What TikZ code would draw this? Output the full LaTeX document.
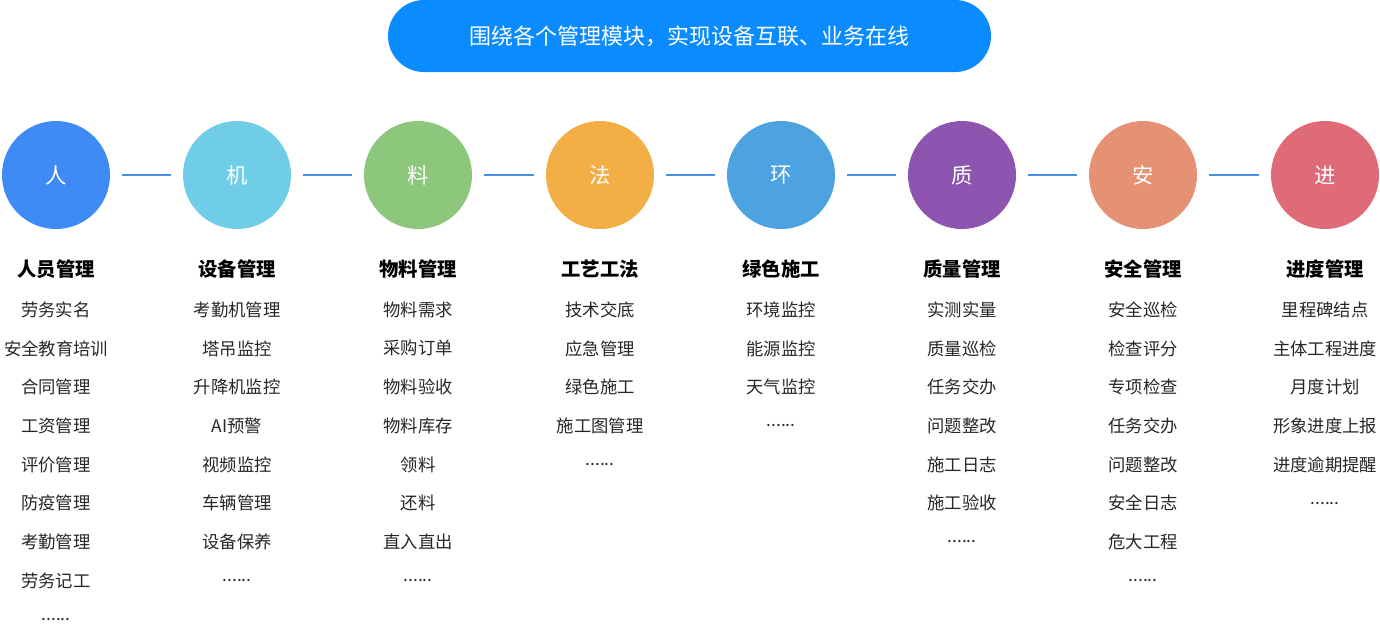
\documentclass[tikz,border=0pt]{standalone}
\usepackage{fontspec}
\setmainfont{Noto Sans CJK SC}
\newcommand\sixdots{......}
\begin{document}
\begin{tikzpicture}[x=0.75pt,y=-0.75pt,
  circ/.style={circle,minimum size=108*0.75pt,inner sep=0,text=white,font=\fontsize{16}{18}\selectfont},
  head/.style={font=\fontsize{14.5}{16}\selectfont\bfseries,text=black},
  item/.style={font=\fontsize{13}{15}\selectfont,text=black!85},
  link/.style={draw=lnk,line width=1.5pt}]
\definecolor{lnk}{HTML}{4A90E2}
\definecolor{ban}{HTML}{0A8BFF}
\useasboundingbox (0,0) rectangle (1380,626);
\node[fill=ban,rounded corners=27,minimum width=603*0.75pt,minimum height=72*0.75pt,text=white,font=\fontsize{16.5}{18}\selectfont] (banner) at (689.5,36) {围绕各个管理模块，实现设备互联、业务在线};
\foreach \i/\x/\c/\ch/\h/\items in {
 0/56/3F8BF5/人/人员管理/{劳务实名,安全教育培训,合同管理,工资管理,评价管理,防疫管理,考勤管理,劳务记工,\sixdots},
 1/237/6FCDE8/机/设备管理/{考勤机管理,塔吊监控,升降机监控,AI预警,视频监控,车辆管理,设备保养,\sixdots},
 2/418/8DC77B/料/物料管理/{物料需求,采购订单,物料验收,物料库存,领料,还料,直入直出,\sixdots},
 3/600/F3AE45/法/工艺工法/{技术交底,应急管理,绿色施工,施工图管理,\sixdots},
 4/781/4DA3E0/环/绿色施工/{环境监控,能源监控,天气监控,\sixdots},
 5/962/8E55B0/质/质量管理/{实测实量,质量巡检,任务交办,问题整改,施工日志,施工验收,\sixdots},
 6/1143/E49174/安/安全管理/{安全巡检,检查评分,专项检查,任务交办,问题整改,安全日志,危大工程,\sixdots},
 7/1325/E06B78/进/进度管理/{里程碑结点,主体工程进度,月度计划,形象进度上报,进度逾期提醒,\sixdots}}{
  \definecolor{cc}{HTML}{\c}
  \node[circ,fill=cc] (c\i) at (\x,175) {\ch};
  \node[head] (h\i) at (\x,269) {\h};
  \foreach \t [count=\k] in \items {
    \node[item] (t\i-\k) at (\x,271+38.7*\k) {\t};
  }
}
\foreach \a/\b in {0/1,1/2,2/3,3/4,4/5,5/6,6/7}{
  \draw[link] ([xshift=12*0.75pt]c\a.east) -- ([xshift=-12*0.75pt]c\b.west);
}
\end{tikzpicture}
\end{document}
